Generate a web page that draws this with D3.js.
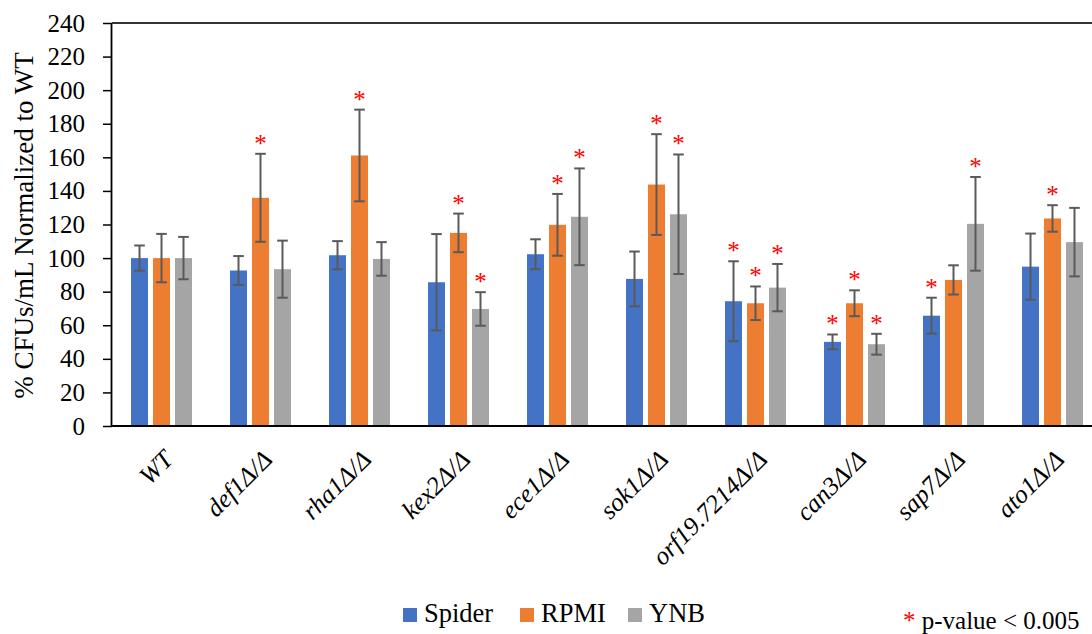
<!DOCTYPE html>
<html>
<head>
<meta charset="utf-8">
<script src="https://cdn.jsdelivr.net/npm/d3@7"></script>
<style>
  html, body { margin: 0; padding: 0; background: #fff; }
  svg text { font-family: "Liberation Serif", "Times New Roman", Times, serif !important; }
</style>
</head>
<body>
<svg id="chart" width="1092" height="634"></svg>
<script>
// Strains on the x axis
const strains = ["WT", "def1Δ/Δ", "rha1Δ/Δ", "kex2Δ/Δ", "ece1Δ/Δ", "sok1Δ/Δ",
                 "orf19.7214Δ/Δ", "can3Δ/Δ", "sap7Δ/Δ", "ato1Δ/Δ"];
const media = ["Spider", "RPMI", "YNB"];

// Mean % CFUs/mL normalised to WT, per medium
const spiderMean = [100, 92.6, 101.7, 85.6, 102.3, 87.6, 74.3, 50.1, 65.7, 94.9];
const rpmiMean   = [100, 135.9, 161.1, 115.0, 119.8, 143.8, 73.1, 73.1, 87.0, 123.6];
const ynbMean    = [100, 93.4, 99.5, 69.7, 124.6, 126.1, 82.4, 48.7, 120.4, 109.5];

// Error bar half-widths
const spiderErr = [7.5, 8.6, 8.4, 28.7, 8.9, 16.3, 23.8, 4.4, 10.7, 19.7];
const rpmiErr   = [14.4, 26.2, 27.3, 11.5, 18.4, 30.0, 10.0, 7.7, 8.7, 7.9];
const ynbErr    = [12.6, 17.0, 10.0, 10.0, 28.8, 35.6, 14.1, 6.2, 27.9, 20.4];

// Significance flags (p-value < 0.005)
const spiderSig = [0, 0, 0, 0, 0, 0, 1, 1, 1, 0];
const rpmiSig   = [0, 1, 1, 1, 1, 1, 1, 1, 0, 1];
const ynbSig    = [0, 0, 0, 1, 1, 1, 1, 1, 1, 0];

const yTicks = [0, 20, 40, 60, 80, 100, 120, 140, 160, 180, 200, 220, 240];

const colors = { Spider: "#4472C4", RPMI: "#ED7D31", YNB: "#A5A5A5" };
const means = { Spider: spiderMean, RPMI: rpmiMean, YNB: ynbMean };
const errs = { Spider: spiderErr, RPMI: rpmiErr, YNB: ynbErr };
const sigs = { Spider: spiderSig, RPMI: rpmiSig, YNB: ynbSig };

const svg = d3.select("#chart");
const plotLeft = 112, plotRight = 1102, plotTop = 23, plotBottom = 426;

const y = d3.scaleLinear().domain([0, 240]).range([plotBottom, plotTop]);
const x0 = d3.scaleBand().domain(strains).range([plotLeft, plotRight])
  .paddingInner(0.384).paddingOuter(0.192);
const x1 = d3.scaleBand().domain(media).range([0, x0.bandwidth()])
  .paddingInner(0.227).paddingOuter(0);

// Bars, error bars and significance stars
const rows = [];
strains.forEach((s, i) => media.forEach(m => rows.push({
  strain: s, medium: m, v: means[m][i], e: errs[m][i], sig: sigs[m][i]
})));

const g = svg.append("g");
g.selectAll("rect.bar").data(rows).join("rect")
  .attr("class", "bar")
  .attr("x", d => x0(d.strain) + x1(d.medium))
  .attr("width", x1.bandwidth())
  .attr("y", d => y(d.v))
  .attr("height", d => y(0) - y(d.v))
  .attr("fill", d => colors[d.medium]);

const cx = d => x0(d.strain) + x1(d.medium) + x1.bandwidth() / 2;
const eb = g.selectAll("g.err").data(rows).join("g").attr("class", "err")
  .attr("stroke", "#5a5a5a").attr("stroke-width", 2);
eb.append("line").attr("x1", cx).attr("x2", cx)
  .attr("y1", d => y(d.v + d.e)).attr("y2", d => y(d.v - d.e));
eb.append("line").attr("x1", d => cx(d) - 5.3).attr("x2", d => cx(d) + 5.3)
  .attr("y1", d => y(d.v + d.e)).attr("y2", d => y(d.v + d.e));
eb.append("line").attr("x1", d => cx(d) - 5.3).attr("x2", d => cx(d) + 5.3)
  .attr("y1", d => y(d.v - d.e)).attr("y2", d => y(d.v - d.e));

g.selectAll("text.star").data(rows.filter(d => d.sig)).join("text")
  .attr("class", "star")
  .attr("x", cx)
  .attr("y", d => y(d.v + d.e) - 2)
  .attr("text-anchor", "middle")
  .attr("fill", "#FF0000")
  .attr("font-size", 25)
  .text("*");

// Y axis
const yAxis = d3.axisLeft(y).tickValues(yTicks).tickSize(9).tickPadding(18);
const ya = svg.append("g").attr("transform", `translate(${plotLeft},0)`).call(yAxis);
ya.select(".domain").attr("stroke", "#000").attr("stroke-width", 1.8).attr("d", `M-0.5,${plotTop}V${plotBottom}`);
ya.selectAll(".tick line").attr("stroke", "#000").attr("stroke-width", 1.5);
ya.selectAll(".tick text").attr("fill", "#000").attr("font-size", 25);

// Top border and x axis line
svg.append("line").attr("x1", plotLeft).attr("x2", 1092).attr("y1", y(240)).attr("y2", y(240))
  .attr("stroke", "#333").attr("stroke-width", 1.8);
svg.append("line").attr("x1", plotLeft - 1).attr("x2", 1092).attr("y1", y(0)).attr("y2", y(0))
  .attr("stroke", "#000").attr("stroke-width", 1.8);

// X labels, italic and rotated
svg.selectAll("text.xl").data(strains).join("text")
  .attr("class", "xl")
  .attr("transform", d => `translate(${x0(d) + x0.bandwidth() / 2 + 13},${plotBottom + 35}) rotate(-45)`)
  .attr("text-anchor", "end")
  .attr("font-style", "italic")
  .attr("font-size", 25.5)
  .attr("fill", "#000")
  .text(d => d);

// Y axis title
svg.append("text")
  .attr("transform", `translate(33,${(plotTop + plotBottom) / 2 + 1}) rotate(-90)`)
  .attr("text-anchor", "middle")
  .attr("font-size", 27)
  .attr("fill", "#000")
  .text("% CFUs/mL Normalized to WT");

// Legend
const legX = [403, 520, 628];
const leg = svg.selectAll("g.leg").data(media).join("g").attr("class", "leg")
  .attr("transform", (d, i) => `translate(${legX[i]},0)`);
leg.append("rect").attr("x", 0).attr("y", 608).attr("width", 14).attr("height", 14)
  .attr("fill", d => colors[d]);
leg.append("text").attr("x", 21).attr("y", 622).attr("font-size", 26.5).attr("fill", "#000")
  .text(d => d);

// Significance note
const note = svg.append("text").attr("x", 903).attr("y", 629).attr("font-size", 25).attr("fill", "#000");
note.append("tspan").attr("fill", "#FF0000").text("*");
note.append("tspan").text(" p-value < 0.005");
</script>
</body>
</html>
